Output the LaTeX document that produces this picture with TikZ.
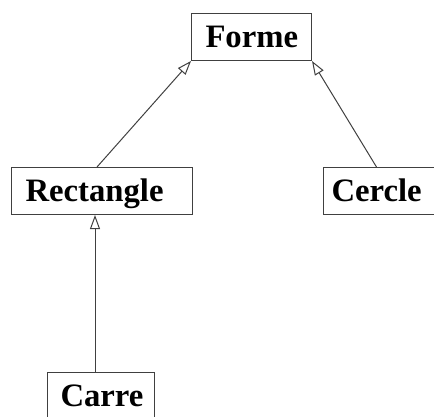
\documentclass[tikz,border=0pt]{standalone}
\usepackage{fontspec}
\setmainfont{Liberation Serif}
\usetikzlibrary{arrows.meta}
\begin{document}
\begin{tikzpicture}[x=1pt,y=-1pt,
  classbox/.style={draw=black!75, line width=1pt, anchor=north west, inner ysep=9pt,
    text height=25pt, text depth=4pt, align=left, font=\fontsize{32.7}{36}\selectfont\bfseries},
  inherit/.style={draw=black!75, line width=1pt, -{Triangle[open,length=14pt,width=10pt]}}]
\useasboundingbox (0,0) rectangle (434,416);
\clip (0,0) rectangle (434,416);
\node[classbox, inner xsep=14pt, text width=92pt] (forme) at (191,13) {Forme};
\node[classbox, inner xsep=14pt, text width=153pt] (rect) at (11,167) {Rectangle};
\node[classbox, inner xsep=8pt, text width=98pt] (cercle) at (323,167) {Cercle};
\node[classbox, inner xsep=13pt, text width=81pt] (carre) at (47,372) {Carre};
\draw[inherit] ([xshift=-5pt]rect.north) -- (forme.south west);
\draw[inherit] ([xshift=-4pt]cercle.north) -- (forme.south east);
\draw[inherit] ([xshift=-6pt]carre.north) -- ([xshift=-6pt]carre.north |- rect.south);
\end{tikzpicture}
\end{document}
